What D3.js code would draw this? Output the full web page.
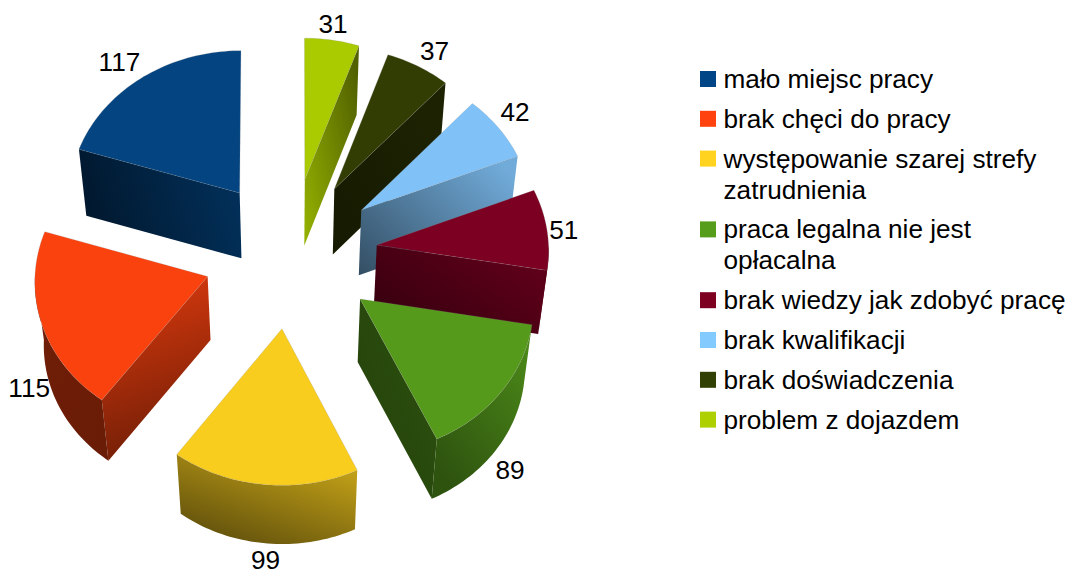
<!DOCTYPE html>
<html>
<head>
<meta charset="utf-8">
<title>pie</title>
<script src="https://cdnjs.cloudflare.com/ajax/libs/d3/7.8.5/d3.min.js"></script>
<style>
	body { margin: 0; background: #fff; }
	text { font-family: "Liberation Sans", Arial, sans-serif; font-size: 26.2px; fill: #000; }
</style>
</head>
<body>
<script>
// data
const categories = ['mało miejsc pracy', 'brak chęci do pracy', 'występowanie szarej strefy zatrudnienia',
	'praca legalna nie jest opłacalna', 'brak wiedzy jak zdobyć pracę', 'brak kwalifikacji',
	'brak doświadczenia', 'problem z dojazdem'];
const values = [117, 115, 99, 89, 51, 42, 37, 31];
const legendColors = ['#004586', '#ff420e', '#ffd320', '#579d1c', '#7e0021', '#83caff', '#314004', '#aecf00'];
const faceColors = ['#034481', '#fa420f', '#f8cd1e', '#559a1b', '#7b0021', '#80c2f7', '#323d03', '#aacb00'];

// how dark the side walls get, [start, end] of the gradient (0 = face colour, 1 = black)
const sideShade = [[0.66, 0.3], [0.15, 0.58], [0.2, 0.2], [0.58, 0.48], [0.6, 0.2], [0.6, 0.12], [0.58, 0.42], [0.12, 0.52]];
const rimShade = [[0.5, 0.5], [0.55, 0.58], [0.16, 0.6], [0.08, 0.46], [0.25, 0.3], [0.2, 0.2], [0.4, 0.4], [0.2, 0.3]];

// small corrections to the value labels
const labelNudge = [[-12, -1], [-4, -4], [2, -1], [2, 6], [-1, 2], [2, -5], [7, 0], [-2, 2]];

const width = 1071, height = 570;
const explode = 0.505, tilt = 0.025;
const cx = 290.5, cy = 253, rx = 172, ry = 149;

const xScale = d3.scaleLinear().domain([-1, 1]).range([cx - rx, cx + rx]);
const yScale = d3.scaleLinear().domain([-1, 1]).range([cy - ry, cy + ry]);

const svg = d3.select('body').append('svg').attr('width', width).attr('height', height);
const defs = svg.append('defs');

const pie = d3.pie().sort(null).startAngle(0).endAngle(2 * Math.PI);
const line = d3.line().x(p => p[0]).y(p => p[1]);

// phi runs counter clockwise from the top of the pie
function planePoint(slice, phi, r) {
	let mid = (slice.startAngle + slice.endAngle) / 2;
	return [-Math.sin(mid) * explode - Math.sin(phi) * r, -Math.cos(mid) * explode - Math.cos(phi) * r];
}
function project(p, bottom) {
	let s = 1 + tilt * p[1];
	let x = xScale(p[0] * s), y = yScale(p[1] * s);
	if (bottom) {
		x -= (x - cx) * 0.035;
		y += 64 - 3.5 * p[1];
	}
	return [x, y];
}
function arcAngles(a, b) {
	let n = Math.max(2, Math.ceil((b - a) * 40));
	return d3.range(n + 1).map(i => a + (b - a) * i / n);
}
function gradient(id, color, shade, dir) {
	let shadeOf = t => d3.interpolateRgb(color, '#000')(t);
	let g = defs.append('linearGradient').attr('id', id)
		.attr('x1', dir[0]).attr('y1', dir[1]).attr('x2', dir[2]).attr('y2', dir[3]);
	g.append('stop').attr('offset', 0).attr('stop-color', shadeOf(shade[0]));
	g.append('stop').attr('offset', 1).attr('stop-color', shadeOf(shade[1]));
	return 'url(#' + id + ')';
}

let slices = pie(values).map((d, i) => Object.assign(d, { i: i }));
let drawOrder = slices.slice().sort((a, b) =>
	d3.ascending(-Math.cos((a.startAngle + a.endAngle) / 2), -Math.cos((b.startAngle + b.endAngle) / 2)));

drawOrder.forEach(d => {
	let g = svg.append('g');
	let color = faceColors[d.i];
	let apex = planePoint(d, 0, 0);

	// flat side of the slice
	let sidePhi = null;
	if (d.endAngle < Math.PI) sidePhi = d.endAngle;
	if (d.startAngle > Math.PI) sidePhi = d.startAngle;
	if (sidePhi !== null) {
		let rim = planePoint(d, sidePhi, 1);
		let dir = d.i === 1 ? [0.55, 0, 0.75, 1] : (d.i < 2 ? [0, 0.6, 1, 0.4] : [0, 1, 1, 0.2]);
		g.append('path')
			.attr('d', line([project(apex), project(rim), project(rim, true), project(apex, true)]) + 'Z')
			.attr('fill', gradient('side' + d.i, color, sideShade[d.i], dir));
	}

	// round side, only the part that faces the viewer
	let a = Math.max(d.startAngle, Math.PI / 2), b = Math.min(d.endAngle, Math.PI * 1.5);
	if (b > a) {
		let top = arcAngles(a, b).map(phi => planePoint(d, phi, 1));
		let pts = top.map(p => project(p)).concat(top.slice().reverse().map(p => project(p, true)));
		let dir = d.i === 2 ? [1, 0, 0.3, 1] : (d.i === 3 ? [1, 0, 0.3, 1] : [0, 0, 1, 1]);
		g.append('path')
			.attr('d', line(pts) + 'Z')
			.attr('fill', gradient('rim' + d.i, color, rimShade[d.i], dir));
	}

	// top face
	let face = [project(apex)].concat(arcAngles(d.startAngle, d.endAngle).map(phi => project(planePoint(d, phi, 1))));
	g.append('path')
		.attr('d', line(face) + 'Z')
		.attr('fill', color)
		.attr('stroke', '#8a8a8a').attr('stroke-opacity', 0.35).attr('stroke-width', 0.6);
});

// value labels, just outside the rim of each slice
slices.forEach(d => {
	let mid = (d.startAngle + d.endAngle) / 2;
	let rim = planePoint(d, mid, 1);
	let pos = project(rim, rim[1] > 0);
	svg.append('text')
		.attr('text-anchor', 'middle')
		.attr('x', pos[0] - Math.sin(mid) * 18 + labelNudge[d.i][0])
		.attr('y', pos[1] - Math.cos(mid) * 18 + 9 + labelNudge[d.i][1])
		.text(d.value);
});

// legend
const legendX = 700, textX = 723.5, wrapWidth = 347, lineHeight = 31, itemGap = 8.8;
let baseline = 88;
categories.forEach((name, i) => {
	let item = svg.append('g');
	item.append('rect')
		.attr('x', legendX).attr('y', baseline - 17)
		.attr('width', 16).attr('height', 16)
		.attr('fill', legendColors[i]);
	let words = name.split(' '), current = '';
	let t = item.append('text').attr('x', textX).attr('y', baseline);
	words.forEach(w => {
		let next = current ? current + ' ' + w : w;
		t.text(next);
		if (t.node().getComputedTextLength() > wrapWidth) {
			t.text(current);
			baseline += lineHeight;
			t = item.append('text').attr('x', textX).attr('y', baseline).text(w);
			current = w;
		} else {
			current = next;
		}
	});
	baseline += lineHeight + itemGap;
});
</script>
</body>
</html>
